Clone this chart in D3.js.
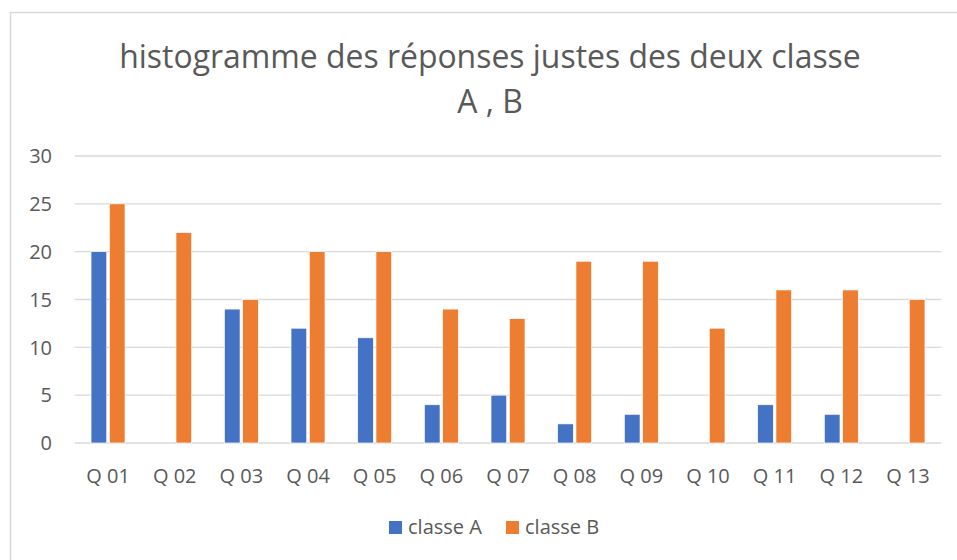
<!DOCTYPE html>
<html><head><meta charset="utf-8">
<script src="https://cdn.jsdelivr.net/npm/d3@7"></script>
<style>body{margin:0;background:#fff}svg{display:block}text{font-family:"Open Sans",sans-serif;fill:#595959}</style>
</head><body><svg id="c" width="957" height="560"></svg>
<script>
const categories = ["Q 01","Q 02","Q 03","Q 04","Q 05","Q 06","Q 07","Q 08","Q 09","Q 10","Q 11","Q 12","Q 13"];
const classeA = [20,0,14,12,11,4,5,2,3,0,4,3,0];
const classeB = [25,22,15,20,20,14,13,19,19,12,16,16,15];
const seriesNames = ["classe A","classe B"];
const colors = ["#4472C4","#ED7D31"];
const yTicks = [0,5,10,15,20,25,30];
const titleLines = ["histogramme des réponses justes des deux classe","A , B"];

(function(){
const svg = d3.select("#c");
svg.append("rect").attr("x",10.5).attr("y",12.5).attr("width",1000).attr("height",1000)
  .attr("fill","none").attr("stroke","#d9d9d9").attr("stroke-width",1.5);

const pL=74.7, pR=941.3, pT=156, pB=443;
const x = d3.scaleBand().domain(categories).range([pL,pR]).paddingInner(0).paddingOuter(0);
const y = d3.scaleLinear().domain([0,30]).range([pB,pT]);
const groupW = 34;
const x1 = d3.scaleBand().domain(seriesNames).range([0,groupW]).paddingInner(0.14);

svg.append("g").selectAll("line").data(yTicks).join("line")
  .attr("x1",pL).attr("x2",pR).attr("y1",d=>y(d)).attr("y2",d=>y(d))
  .attr("stroke","#d9d9d9").attr("stroke-width",1.3);

svg.append("g").selectAll("text").data(yTicks).join("text")
  .attr("x",52).attr("y",d=>y(d)).attr("dy","0.36em").attr("text-anchor","end")
  .style("font-size","20px").text(d=>d);

const data = categories.map((c,i)=>({c, vals:[classeA[i],classeB[i]]}));
const g = svg.append("g");
data.forEach(d=>{
  const gx = x(d.c) + x.bandwidth()/2 - groupW/2;
  d.vals.forEach((v,j)=>{
    if(v<=0) return;
    g.append("rect").attr("x",gx + x1(seriesNames[j])).attr("y",y(v))
      .attr("width",x1.bandwidth()).attr("height",y(0)-y(v))
      .attr("fill",colors[j]).attr("stroke","#fff").attr("stroke-width",0.7);
  });
});

svg.append("g").selectAll("text").data(categories).join("text")
  .attr("x",d=>x(d)+x.bandwidth()/2).attr("y",483).attr("text-anchor","middle")
  .style("font-size","20px").text(d=>d);

const t1 = svg.append("text").attr("x",490).attr("y",68).attr("text-anchor","middle")
  .style("font-size","30px").text(titleLines[0]);
const w = t1.node().getComputedTextLength();
const fs = 30*742/w;
t1.style("font-size",fs+"px");
svg.append("text").attr("x",490).attr("y",113).attr("text-anchor","middle")
  .style("font-size",fs+"px").text(titleLines[1]);

const legX=[389,506];
seriesNames.forEach((n,j)=>{
  svg.append("rect").attr("x",legX[j]).attr("y",521).attr("width",13).attr("height",13).attr("fill",colors[j]);
  svg.append("text").attr("x",legX[j]+19).attr("y",534).style("font-size","20px").text(n);
});
})();
</script></body></html>
